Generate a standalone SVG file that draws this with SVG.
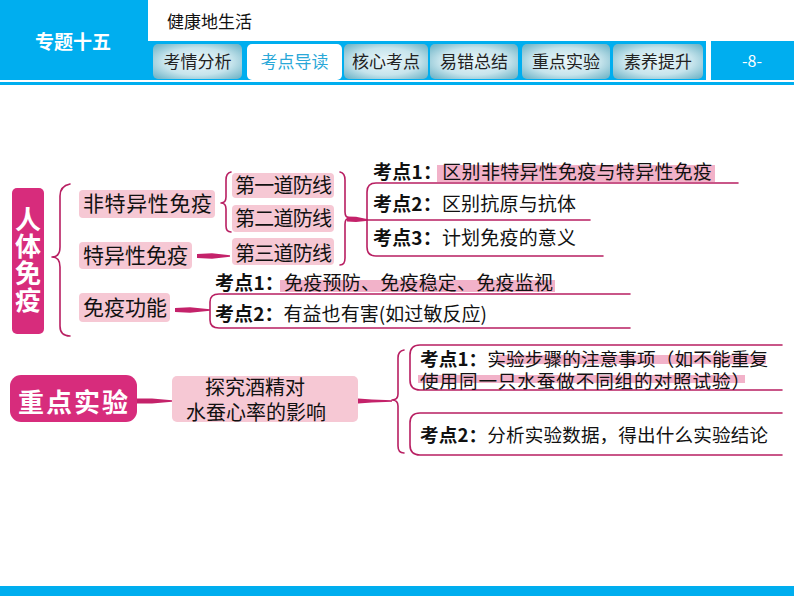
<svg xmlns="http://www.w3.org/2000/svg" width="794" height="596" viewBox="0 0 794 596">
<defs>
<radialGradient id="tabg" cx="50%" cy="50%" r="65%">
<stop offset="0" stop-color="#eaf6f9"/>
<stop offset="0.6" stop-color="#c6e4ec"/>
<stop offset="1" stop-color="#76b8ca"/>
</radialGradient>
<style>
text{font-family:"Noto Sans CJK SC","Noto Sans",sans-serif;fill:#111}
.tab{fill:url(#tabg)}
.tabt{font-size:17px;text-anchor:middle;fill:#222}
.pink{fill:#f6c8d4}
.mag{fill:#d72c7c}
.ln{fill:none;stroke:#b81f62;stroke-width:1.6;stroke-linecap:round}
.br{fill:none;stroke:#b81f62;stroke-width:1.6;stroke-linecap:round;stroke-linejoin:round}
.tp{fill:#c4226a}
.hl{fill:#ef9fbb;opacity:0.8}
.b{font-weight:bold}
.t19{font-size:19px}
.t18{font-size:18.6px}
.t21{font-size:21px}
.t20{font-size:20px}
.vt{font-size:26px;font-weight:bold;fill:#fff;writing-mode:vertical-rl;letter-spacing:1px}
</style>
</defs>
<rect width="794" height="596" fill="#ffffff"/>
<g id="header">
<rect x="0" y="0" width="148" height="80" fill="#00aeef"/>
<text x="73" y="49" font-size="19" font-weight="bold" text-anchor="middle" style="fill:#fff">专题十五</text>
<text x="167" y="28" font-size="17" style="fill:#111">健康地生活</text>
<rect x="148" y="41" width="558" height="39" fill="#00aeef"/>
<rect x="711" y="41" width="83" height="39" fill="#00aeef"/>
<text x="752" y="67" font-size="16" text-anchor="middle" style="fill:#fff">-8-</text>
<rect class="tab" x="153" y="44" width="89" height="35" rx="5"/>
<rect x="247" y="44" width="95" height="36" rx="5" fill="#ffffff"/>
<rect class="tab" x="344" y="44" width="84" height="35" rx="5"/>
<rect class="tab" x="430" y="44" width="88" height="35" rx="5"/>
<rect class="tab" x="522" y="44" width="88" height="35" rx="5"/>
<rect class="tab" x="613" y="44" width="90" height="35" rx="5"/>
<text class="tabt" x="197.5" y="68">考情分析</text>
<text class="tabt" x="294.5" y="68" style="fill:#2aa8d8">考点导读</text>
<text class="tabt" x="386" y="68">核心考点</text>
<text class="tabt" x="474" y="68">易错总结</text>
<text class="tabt" x="566" y="68">重点实验</text>
<text class="tabt" x="658" y="68">素养提升</text>
<rect x="0" y="82" width="794" height="3" fill="#00aeef"/>
<rect x="0" y="586" width="794" height="10" fill="#00aeef"/>
</g>

<g id="connectors">
<path class="br" d="M70,184 Q60,186 60,196 L60,247 Q60,257 52,257 Q60,257 60,267 L60,326 Q60,336 70,336"/>
<path class="br" d="M231,172 Q226,173 226,180 L226,197 Q226,203 221,203 Q226,203 226,209 L226,226 Q226,232 231,232"/>
<path class="tp" d="M197,254 L212,253.2 L230,255.3 L230,256.7 L212,258.8 L197,258 Z"/>
<path class="br" d="M340,172 Q345,173 345,180 L345,212 Q345,218 350,218 Q345,218 345,224 L345,258 Q345,265 340,265"/>
<path class="tp" d="M347,216.5 L356,216.8 L368,219.3 L368,220.7 L356,222 L347,221.5 Z"/>
<path class="ln" d="M738,183 L376,183 Q367,183 367,192 L367,247 Q367,256 376,256 L603,256"/>
<path class="ln" d="M367,220 L590,220"/>
<path class="tp" d="M175,308 L190,307.2 L210,309.3 L210,310.7 L190,312.8 L175,312 Z"/>
<path class="ln" d="M630,294 L219,294 Q210,294 210,302 L210,320 Q210,328 219,328 L630,328"/>
<path class="tp" d="M137,398.5 L152,398.5 L172,400.3 L172,401.7 L152,403.5 L137,403.5 Z"/>
<path class="tp" d="M358,398.5 L372,399.5 L392,400.3 L392,401.7 L372,402.5 L358,403.5 Z"/>
<path class="br" d="M404,350 Q398,351 398,358 L398,394 Q398,400 392,400 Q398,400 398,406 L398,446 Q398,453 404,453"/>
<path class="ln" d="M782,345 L420,345 Q410,345 410,355 L410,380 Q410,390 420,390 L782,390"/>
<path class="ln" d="M782,413 L420,413 Q410,413 410,423 L410,445 Q410,455 420,455 L782,455"/>
</g>

<g id="n-renti">
<rect class="mag" x="12" y="188" width="32" height="146" rx="5"/>
<text class="vt" x="28" y="206">人体免疫</text>
</g>
<g id="n-feite">
<rect class="pink" x="79" y="190" width="136" height="28" rx="4"/>
<text class="t21" x="83" y="211" textLength="129">非特异性免疫</text>
</g>
<g id="n-teyi">
<rect class="pink" x="79" y="242" width="113" height="27" rx="4"/>
<text class="t21" x="83" y="263" textLength="105">特异性免疫</text>
</g>
<g id="n-gongneng">
<rect class="pink" x="79" y="293" width="91" height="29" rx="4"/>
<text class="t21" x="83" y="315" textLength="84">免疫功能</text>
</g>
<g id="n-d1">
<rect class="pink" x="232" y="173" width="102" height="25" rx="4"/>
<text class="t20" x="235" y="193" textLength="97">第一道防线</text>
</g>
<g id="n-d2">
<rect class="pink" x="232" y="205" width="102" height="27" rx="4"/>
<text class="t20" x="235" y="225.5" textLength="97">第二道防线</text>
</g>
<g id="n-d3">
<rect class="pink" x="232" y="238" width="102" height="27" rx="4"/>
<text class="t20" x="235" y="261" textLength="97">第三道防线</text>
</g>
<g id="n-kd-a">
<rect class="hl" x="437" y="165" width="278" height="17"/>
<text class="t19" x="373" y="179" textLength="339"><tspan class="b">考点1：</tspan>区别非特异性免疫与特异性免疫</text>
<text class="t19" x="373" y="211" textLength="203"><tspan class="b">考点2：</tspan>区别抗原与抗体</text>
<text class="t19" x="373" y="245" textLength="203"><tspan class="b">考点3：</tspan>计划免疫的意义</text>
</g>
<g id="n-kd-b">
<rect class="hl" x="280" y="280" width="275" height="12"/>
<text class="t19" x="215" y="290" textLength="338"><tspan class="b">考点1：</tspan>免疫预防、免疫稳定、免疫监视</text>
<text class="t19" x="215" y="321" textLength="272"><tspan class="b">考点2：</tspan>有益也有害(如过敏反应)</text>
</g>
<g id="n-zhongdian">
<rect class="mag" x="10" y="375" width="127" height="47" rx="11"/>
<text x="73" y="412" font-size="26" font-weight="bold" text-anchor="middle" textLength="110" style="fill:#fff">重点实验</text>
</g>
<g id="n-tanjiu">
<rect class="pink" x="172" y="376" width="186" height="46" rx="5"/>
<text class="t20" x="255" y="395" text-anchor="middle">探究酒精对</text>
<text class="t20" x="256" y="419.5" text-anchor="middle">水蚕心率的影响</text>
</g>
<g id="n-kd-c">
<rect class="hl" x="498" y="355" width="268" height="9"/>
<rect class="hl" x="418" y="375" width="327" height="8"/>
<text class="t18" x="420" y="366" textLength="348"><tspan class="b">考点1：</tspan>实验步骤的注意事项（如不能重复</text>
<text class="t18" x="420" y="388" textLength="330">使用同一只水蚕做不同组的对照试验）</text>
<text class="t18" x="420" y="442" textLength="348"><tspan class="b">考点2：</tspan>分析实验数据，得出什么实验结论</text>
</g>
</svg>
